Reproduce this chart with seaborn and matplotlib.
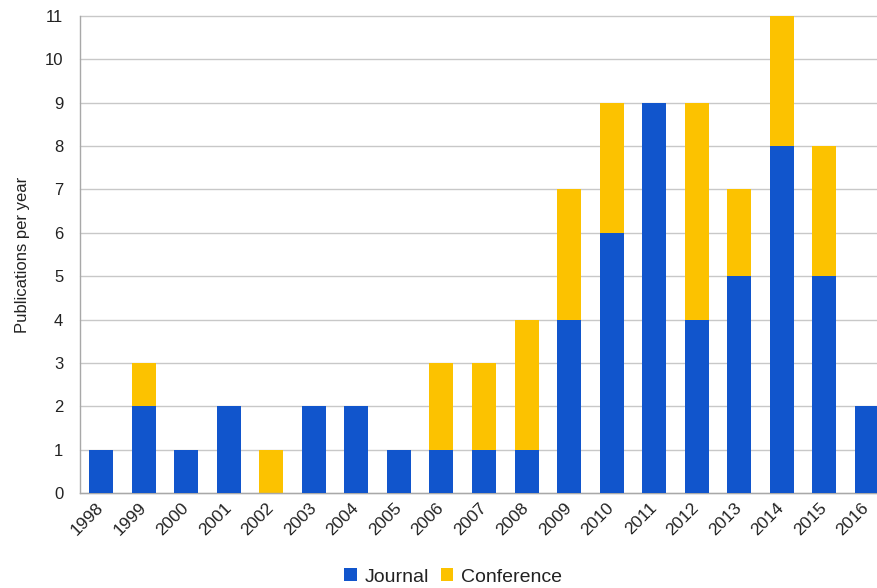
import matplotlib
matplotlib.use("Agg")
import matplotlib.pyplot as plt
from matplotlib.patches import Patch
import seaborn as sns
import pandas as pd

years = ["1998", "1999", "2000", "2001", "2002", "2003", "2004", "2005", "2006", "2007",
         "2008", "2009", "2010", "2011", "2012", "2013", "2014", "2015", "2016"]
journal = [1, 2, 1, 2, 0, 2, 2, 1, 1, 1, 1, 4, 6, 9, 4, 5, 8, 5, 2]
conference = [0, 1, 0, 0, 1, 0, 0, 0, 2, 2, 3, 3, 3, 0, 5, 2, 3, 3, 0]
y_ticks = list(range(0, 12))

BLUE = "#1155cc"
YELLOW = "#fcc200"

sns.set_theme(style="white")
plt.rcParams["font.family"] = ["Liberation Sans", "DejaVu Sans"]

df = pd.DataFrame({"year": years, "journal": journal, "conference": conference})
df["total"] = df["journal"] + df["conference"]

fig = plt.figure(figsize=(8.78, 5.88), dpi=100)
ax = fig.add_axes([80 / 878, 1 - 493 / 588, 808 / 878, (493 - 16) / 588])

# stacked bars: full height in yellow, journal share drawn over it in blue
sns.barplot(data=df, x="year", y="total", color=YELLOW, width=0.565,
            saturation=1, edgecolor="none", linewidth=0, ax=ax, zorder=2)
sns.barplot(data=df, x="year", y="journal", color=BLUE, width=0.565,
            saturation=1, edgecolor="none", linewidth=0, ax=ax, zorder=3)

ax.set_xlim(-0.5, len(years) - 0.5)
ax.set_ylim(0, 11)
ax.set_yticks(y_ticks)
ax.set_yticklabels([str(t) for t in y_ticks])
ax.yaxis.grid(True, color="#c8c8c8", linewidth=1.0, zorder=0)
ax.set_axisbelow(True)
for gl in ax.get_ygridlines():
    gl.set_clip_on(False)

for side in ["top", "right"]:
    ax.spines[side].set_visible(False)
for side in ["left", "bottom"]:
    ax.spines[side].set_color("#a8a8a8")
    ax.spines[side].set_linewidth(1.0)

ax.tick_params(axis="both", length=0, labelsize=12, colors="#222222")
ax.tick_params(axis="y", pad=12)
ax.tick_params(axis="x", pad=9, labelsize=12.5)
plt.setp(ax.get_xticklabels(), rotation=45, ha="right", va="center",
         rotation_mode="anchor")

ax.set_xlabel("")
ax.set_ylabel("Publications per year", fontsize=12, color="#222222", labelpad=11)

handles = [Patch(facecolor=BLUE, edgecolor="none", label="Journal"),
           Patch(facecolor=YELLOW, edgecolor="none", label="Conference")]
fig.legend(handles=handles, loc="center", bbox_to_anchor=(453 / 878, 11 / 588),
           ncol=2, frameon=False, fontsize=14, handlelength=0.65, handleheight=0.65,
           handletextpad=0.4, columnspacing=0.6, borderaxespad=0, borderpad=0,
           labelcolor="#222222")

fig.savefig("out.png", dpi=100)
